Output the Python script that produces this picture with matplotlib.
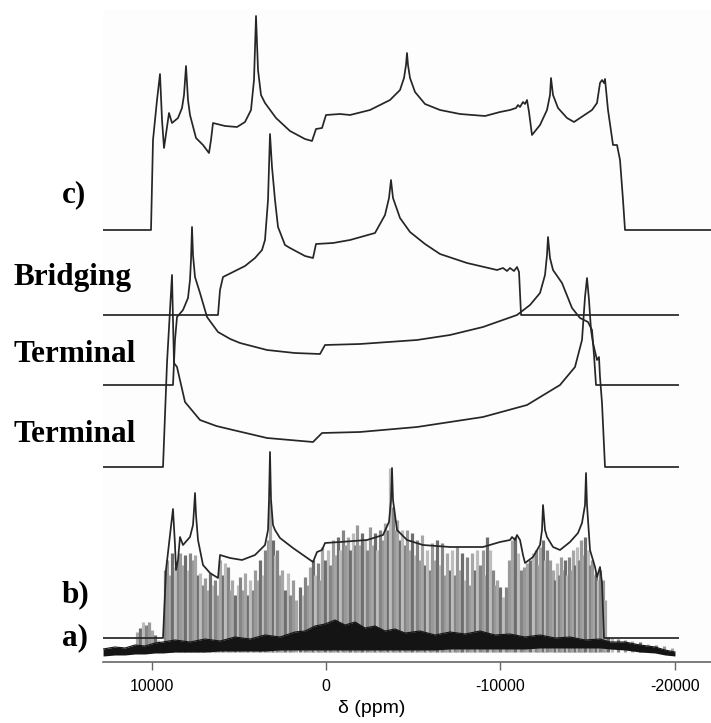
import matplotlib
matplotlib.use("Agg")
import matplotlib.pyplot as plt

# --- data (chemical shift in ppm, intensity in arbitrary units above each trace baseline) ---
ppm_c = [13000, 10050, 9935, 9705, 9534, 9418, 9304, 9132, 9017, 8845, 8501, 8271, 8156, 8041, 7927,
         7812, 7467, 7066, 6722, 6607, 6492, 5803, 5114, 4656, 4311, 4139, 4024, 3909, 3737, 3507,
         2876, 2073, 1212, 810, 581, 236, 7, -797, -1371, -2518, -3666, -4240, -4470, -4584, -4641,
         -4699, -4814, -5101, -5675, -6536, -7684, -9118, -9979, -10553, -10898, -11013, -11128,
         -11299, -11414, -11529, -11643, -11815, -12275, -12676, -12848, -12906, -13021, -13308,
         -13824, -14225, -14742, -15259, -15546, -15718, -15833, -15948, -16005, -16177, -16465,
         -16694, -16866, -17038, -17153, -22500]
int_c = [0, 0, 90, 130, 156, 110, 82, 103, 117, 107, 112, 122, 135, 164, 130,
         115, 92, 85, 77, 90, 107, 104, 103, 108, 120, 150, 214, 160, 135, 127,
         112, 99, 91, 89, 101, 102, 115, 116, 115, 120, 130, 140, 152, 165, 177,
         165, 152, 138, 126, 120, 116, 114, 118, 120, 122, 125, 123,
         128, 126, 130, 118, 95, 105, 120, 135, 152, 135, 122,
         112, 108, 114, 120, 127, 147, 150, 147, 151, 120, 85,
         85, 70, 30, 0, 0]

ppm_bridging = [13000, 6205, 6090, 5918, 5344, 4656, 4082, 3680, 3508, 3335, 3221, 3106, 2934, 2761,
                2360, 2073, 1212, 753, 581, -395, -1371, -2805, -3379, -3609, -3723, -3838, -4240,
                -4814, -5675, -6536, -8085, -9807, -10151, -10381, -10553, -10783, -10955, -11070,
                -11186, -20200]
int_bridging = [0, 0, 25, 38, 43, 49, 57, 65, 75, 115, 181, 148, 115, 88,
                70, 67, 59, 57, 71, 72, 75, 82, 100, 117, 135, 117, 97,
                83, 71, 61, 52, 45, 47, 44, 47, 44, 48, 43,
                0, 0]

ppm_term1 = [13000, 8788, 8673, 8558, 8214, 7927, 7812, 7755, 7697, 7640, 7525, 7238, 6836, 6205,
             5500, 4942, 3393, 1800, 351, 64, -1944, -5216, -7110, -9003, -10955, -11701, -12275,
             -12562, -12676, -12733, -12848, -13021, -13537, -14111, -14570, -15029, -15259,
             -15373, -15488, -20200]
int_term1 = [0, 0, 45, 68, 75, 87, 105, 125, 158, 130, 108, 92, 68, 53,
             46, 42, 35, 32, 31, 40, 41, 45, 50, 58, 70, 80, 92,
             110, 130, 148, 127, 115, 102, 77, 67, 63, 55,
             30, 0, 0]

ppm_term2 = [13000, 9361, 9132, 8960, 8845, 8788, 8730, 8558, 8099, 7238, 6300, 5344, 3393, 753, 236,
             -1944, -5216, -9003, -11529, -13422, -14283, -14685, -14857, -14972, -15087, -15202,
             -15316, -15546, -15660, -15718, -15833, -16005, -20200]
int_term2 = [0, 0, 104, 157, 192, 147, 104, 100, 65, 47, 41, 37, 29, 25, 34,
             35, 40, 50, 62, 82, 100, 127, 170, 189, 167, 137,
             124, 107, 110, 90, 64, 0, 0]

ppm_b = [13000, 9361, 9189, 8960, 8788, 8673, 8615, 8501, 8386, 8214, 7812, 7640, 7582, 7525, 7467,
         7353, 7066, 6664, 6205, 6090, 5516, 4827, 4082, 3508, 3335, 3278, 3221, 3163, 3049, 2934,
         2647, 1901, 753, 523, 236, 64, -797, -2346, -3264, -3609, -3723, -3781, -3838, -4068,
         -4641, -5560, -7110, -9003, -9979, -10553, -10668, -10840, -10955, -11128, -11299,
         -11414, -11873, -12275, -12389, -12447, -12562, -12676, -13021, -13422, -13996, -14455,
         -14685, -14857, -14914, -14972, -15087, -15144, -15431, -15546, -15718, -15833, -15948,
         -20200]
int_b = [0, 0, 68, 103, 129, 93, 68, 78, 101, 93, 101, 113, 128, 145, 123,
         98, 73, 65, 60, 83, 80, 78, 83, 93, 108, 138, 186, 138, 113, 108,
         100, 90, 76, 86, 88, 95, 96, 98, 103, 116, 138, 170, 138, 108,
         98, 93, 91, 91, 96, 98, 101, 98, 103, 98, 83,
         75, 81, 93, 108, 133, 108, 101, 91, 88, 96, 105,
         115, 133, 165, 133, 103, 88, 71, 61, 71, 55, 0,
         0]

# experimental spectrum a): spinning sideband tips
ppm_spikes = [10850, 10680, 10510, 10340, 10170, 9990, 9820, 9650,
              9250, 9130, 8960, 8850, 8670, 8500, 8390, 8210, 8100, 7930, 7810, 7640, 7530, 7350,
              7240, 7070, 6950, 6780, 6660, 6490, 6380, 6210, 6090, 5920, 5800, 5630, 5520, 5400,
              5230, 5060, 4940, 4770, 4660, 4480, 4370, 4200, 4080, 3910, 3800, 3620, 3510, 3340,
              3220, 3050, 2930, 2820, 2650, 2530, 2360, 2190, 2070, 1900, 1730, 1500, 1330, 1210,
              1040, 925, 750, 640, 470, 350, 240, 60, -110, -220, -400, -510, -680, -800, -970,
              -1080, -1260, -1370, -1540, -1660, -1770, -1940, -2060, -2230, -2350, -2520, -2630,
              -2810, -2920, -3090, -3260, -3380, -3550, -3670, -3840, -3950, -4070, -4240, -4360,
              -4530, -4640, -4810, -4930, -5100, -5220, -5390, -5500, -5680, -5790, -5960, -6080,
              -6250, -6360, -6540, -6650, -6820, -6940, -7110, -7220, -7400, -7510, -7680, -7800,
              -7970, -8090, -8260, -8370, -8540, -8660, -8830, -9000, -9120, -9230, -9410, -9580,
              -9690, -9810, -9980, -10150, -10320, -10500, -10670, -10840, -11010, -11180, -11360,
              -11530, -11700, -11870, -12050, -12160, -12280, -12450, -12560, -12680, -12850,
              -13020, -13140, -13250, -13370, -13480, -13600, -13710, -13820, -13940, -14050,
              -14170, -14280, -14400, -14510, -14630, -14740, -14860, -15030, -15140, -15260,
              -15370, -15490, -15600, -15720, -15890, -16000,
              -16180, -16410, -16750, -17150, -17560, -18010, -18470, -18930, -19390, -19850]
int_spikes = [30, 34, 40, 37, 40, 32, 27, 22,
              92, 102, 87, 109, 95, 102, 109, 97, 107, 92, 109, 102, 107, 87,
              89, 77, 84, 72, 89, 77, 82, 67, 102, 87, 99, 95, 72, 82,
              67, 77, 85, 72, 89, 67, 82, 72, 92, 82, 102, 87, 112, 122,
              162, 122, 107, 112, 87, 92, 72, 89, 67, 82, 62, 75, 67, 85,
              77, 95, 102, 87, 99, 82, 115, 102, 112, 97, 122, 107, 125, 112, 132,
              117, 125, 112, 129, 117, 137, 117, 129, 122, 112, 135, 117,
              129, 112, 132, 122, 139, 132, 194, 155, 132, 142, 122, 132,
              117, 132, 112, 129, 107, 122, 102, 127, 97, 112, 92, 119,
              102, 122, 97, 119, 87, 109, 92, 112, 87, 115, 92, 109,
              82, 105, 77, 109, 92, 112, 97, 112, 87, 125, 112, 92,
              77, 82, 75, 65, 75, 102, 122, 125, 109, 92, 95,
              99, 102, 109, 112, 97, 115, 122, 102, 112, 102,
              92, 82, 99, 87, 105, 92, 102, 87, 105, 92,
              112, 97, 115, 102, 122, 107, 125, 112, 97, 102,
              87, 89, 82, 92, 82, 62,
              25, 24, 23, 22, 21, 20, 18, 17, 16, 14]

# experimental spectrum a): dense noise band
ppm_band = [12800, 12120, 11540, 10970, 10400, 9820, 9360, 8670, 7810, 6950, 6090, 5230, 4370, 3510,
            2650, 1790, 1210, 640, 60, -510, -1080, -1660, -2230, -2810, -3380, -3950, -4530,
            -5390, -6250, -7110, -7970, -8830, -9690, -10550, -11410, -12280, -13140, -14000,
            -14860, -15720, -16290, -17150, -18010, -18870, -19450, -20020]
band_top = [13, 15, 14, 17, 16, 19, 20, 22, 20, 23, 21, 25, 23, 27,
            25, 30, 31, 36, 38, 42, 37, 40, 34, 36, 31, 33, 29,
            31, 27, 30, 28, 31, 27, 28, 25, 27, 24, 25,
            22, 23, 20, 20, 17, 15, 12, 10]
band_bottom = [6, 7, 7, 8, 8, 9, 9, 10, 10, 10, 11, 11, 11, 11,
               12, 12, 12, 12, 12, 12, 12, 12, 12, 12, 12, 12, 12,
               12, 12, 13, 13, 13, 13, 13, 13, 14, 14, 14,
               14, 14, 13, 12, 10, 9, 7, 6]

trace_offsets = {"c": 432, "bridging": 347, "term1": 277, "term2": 195, "b": 24}

fig = plt.figure(figsize=(7.11, 7.23), dpi=100)
ax = fig.add_axes([103 / 711, 61 / 723, 608 / 711, 652 / 723])
ax.set_facecolor("#fdfdfd")
ax.set_xlim(12805, -22088)
ax.set_ylim(0, 652)

# sidebands (gray), then noise band (black)
shades = ["#a6a6a6", "#6e6e6e", "#bcbcbc", "#858585", "#999999"]
for i, (p, h) in enumerate(zip(ppm_spikes, int_spikes)):
    ax.vlines(p, 10, h, color=shades[i % len(shades)], lw=2.3, zorder=1)
ax.fill_between(ppm_band, band_bottom, band_top, color="#141414", lw=0, zorder=2)
ax.plot(ppm_band, band_top, color="#141414", lw=0.8, zorder=2)

# simulated traces
line_kw = dict(color="#262626", lw=1.25, zorder=3)
ax.plot(ppm_c, [v + trace_offsets["c"] for v in int_c], **line_kw)
ax.plot(ppm_bridging, [v + trace_offsets["bridging"] for v in int_bridging], **line_kw)
ax.plot(ppm_term1, [v + trace_offsets["term1"] for v in int_term1], **line_kw)
ax.plot(ppm_term2, [v + trace_offsets["term2"] for v in int_term2], **line_kw)
ax.plot(ppm_b, [v + trace_offsets["b"] for v in int_b], **line_kw)

for s in ["top", "left", "right"]:
    ax.spines[s].set_visible(False)
ax.spines["bottom"].set_color("#666666")
ax.spines["bottom"].set_linewidth(1.2)
ax.set_yticks([])
ax.set_xticks([10000, 0, -10000, -20000], ["10000", "0", "-10000", "-20000"],
              fontfamily="Liberation Sans", fontsize=11.5)
ax.tick_params(axis="x", direction="out", length=6, width=1.0, color="#666666", pad=6)
ax.set_xlabel("δ (ppm)", fontfamily="Liberation Sans", fontsize=14)
ax.xaxis.set_label_coords(0.442, -0.058)

label_kw = dict(fontfamily="Liberation Serif", fontweight="bold", fontsize=22.5, va="baseline")
fig.text(62 / 711, 1 - 202 / 723, "c)", **label_kw)
fig.text(13 / 711, 1 - 285 / 723, "Bridging", **label_kw)
fig.text(13 / 711, 1 - 362 / 723, "Terminal", **label_kw)
fig.text(13 / 711, 1 - 442 / 723, "Terminal", **label_kw)
fig.text(62 / 711, 1 - 602 / 723, "b)", **label_kw)
fig.text(62 / 711, 1 - 645 / 723, "a)", **label_kw)

fig.savefig("out.png", dpi=100, facecolor="white")
